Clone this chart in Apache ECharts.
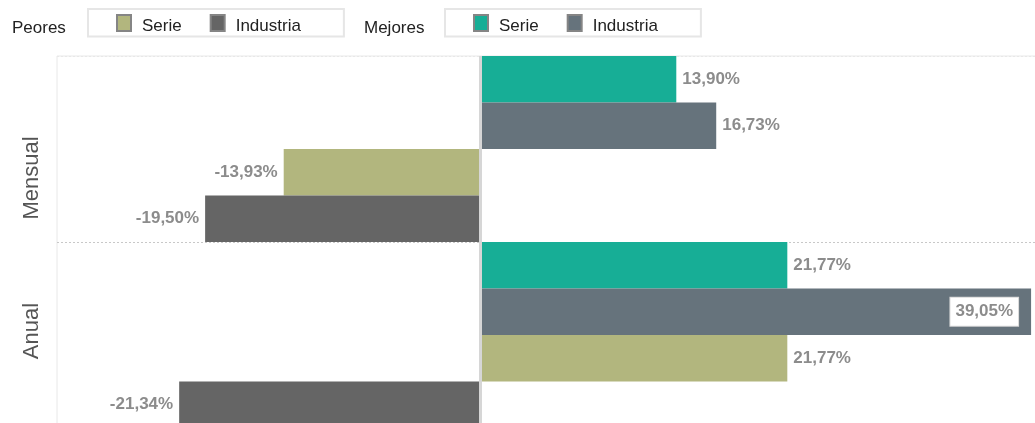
<!DOCTYPE html>
<html>
<head>
<meta charset="utf-8">
<script src="https://cdn.jsdelivr.net/npm/echarts@6/dist/echarts.min.js"></script>
<style>
  html, body { margin: 0; padding: 0; background: #fff; overflow: hidden; }
  #chart { width: 1038px; height: 428px; }
</style>
</head>
<body>
<div id="chart"></div>
<script>
// categorias (de arriba hacia abajo)
var categories = ['Mensual', 'Anual']

// valores en %
var mejoresSerie = [13.90, 21.77]
var mejoresIndustria = [16.73, 39.05]
var peoresSerie = [-13.93, 21.77]
var peoresIndustria = [-19.50, -21.34]

var fontFam = '"Liberation Sans", Arial, sans-serif'
var allValues = mejoresSerie.concat(mejoresIndustria, peoresSerie, peoresIndustria)
var maxValue = Math.max.apply(null, allValues)

function fmt(v) {
  return v.toFixed(2).replace('.', ',') + '%'
}

// etiqueta a la derecha o izquierda segun el signo, dentro si no cabe
function buildData(arr) {
  return arr.map(function (v) {
    if (v === maxValue) {
      return {
        value: v,
        label: {
          position: 'insideRight',
          distance: 13,
          backgroundColor: '#fff',
          borderColor: '#d8d8d8',
          borderWidth: 1,
          padding: [6, 5, 5, 5]
        }
      }
    }
    return {value: v, label: {position: v < 0 ? 'left' : 'right'}}
  })
}

function makeSeries(name, color, arr) {
  return {
    name: name,
    type: 'bar',
    barGap: 0,
    barCategoryGap: 0,
    itemStyle: {color: color},
    label: {
      show: true,
      distance: 6,
      color: '#8c8c8c',
      fontWeight: 'bold',
      fontSize: 17,
      fontFamily: fontFam,
      formatter: function (p) { return fmt(p.value) }
    },
    data: buildData(arr)
  }
}

var chart = echarts.init(document.getElementById('chart'))

var legendBase = {
  top: 9,
  orient: 'horizontal',
  icon: 'rect',
  itemWidth: 14,
  itemHeight: 16,
  itemGap: 28,
  borderColor: '#e6e6e6',
  borderWidth: 2,
  borderRadius: 0,
  padding: [5, 43, 2, 28],
  itemStyle: {borderColor: '#858585', borderWidth: 2},
  textStyle: {
    color: '#222',
    fontSize: 17,
    fontFamily: fontFam,
    padding: [0, 0, 0, 6],
    rich: {t: {color: '#222', fontSize: 17, fontFamily: fontFam, padding: [6, 0, 0, 0]}}
  },
  formatter: function (name) { return '{t|' + name.split(' ')[1] + '}' },
  selectedMode: false
}

var option = {
  animation: false,
  textStyle: {fontFamily: fontFam},
  title: [
    {text: 'Peores', left: 7, top: 15, textStyle: {fontSize: 17, fontWeight: 'normal', color: '#222', fontFamily: fontFam}},
    {text: 'Mejores', left: 359, top: 15, textStyle: {fontSize: 17, fontWeight: 'normal', color: '#222', fontFamily: fontFam}}
  ],
  legend: [
    Object.assign({}, legendBase, {left: 88, data: ['Peores Serie', 'Peores Industria']}),
    Object.assign({}, legendBase, {left: 445, data: ['Mejores Serie', 'Mejores Industria']})
  ],
  grid: {
    left: 57,
    right: 0,
    top: 56,
    bottom: 0,
    show: true,
    borderColor: '#e8e8e8',
    borderWidth: 1
  },
  xAxis: {
    type: 'value',
    min: -30,
    max: 39.54,
    show: false,
    splitLine: {show: false}
  },
  yAxis: {
    type: 'category',
    inverse: true,
    data: categories,
    axisLine: {show: false},
    axisTick: {show: false},
    splitLine: {show: true, lineStyle: {color: ['#e8e8e8', '#c8c8c8', '#e8e8e8'], type: [2, 2], width: 1}},
    axisLabel: {
      rotate: 90,
      margin: 14,
      color: '#555',
      fontSize: 22,
      fontFamily: fontFam,
      formatter: function (v) { return v === 'Mensual' ? '{m|' + v + '}' : '{a|' + v + '}' },
      rich: {
        m: {fontSize: 22, color: '#555', padding: [0, 58, 0, 0]},
        a: {fontSize: 22, color: '#555', padding: [0, 0, 0, 8]}
      }
    }
  },
  series: [
    makeSeries('Mejores Serie', '#17ae96', mejoresSerie),
    makeSeries('Mejores Industria', '#66737c', mejoresIndustria),
    makeSeries('Peores Serie', '#b2b67e', peoresSerie),
    Object.assign(makeSeries('Peores Industria', '#656565', peoresIndustria), {
      markLine: {
        silent: true,
        symbol: ['none', 'none'],
        label: {show: false},
        lineStyle: {color: '#d6d6d6', width: 3, type: 'solid'},
        data: [{xAxis: 0}]
      }
    })
  ]
}

chart.setOption(option)
</script>
</body>
</html>
